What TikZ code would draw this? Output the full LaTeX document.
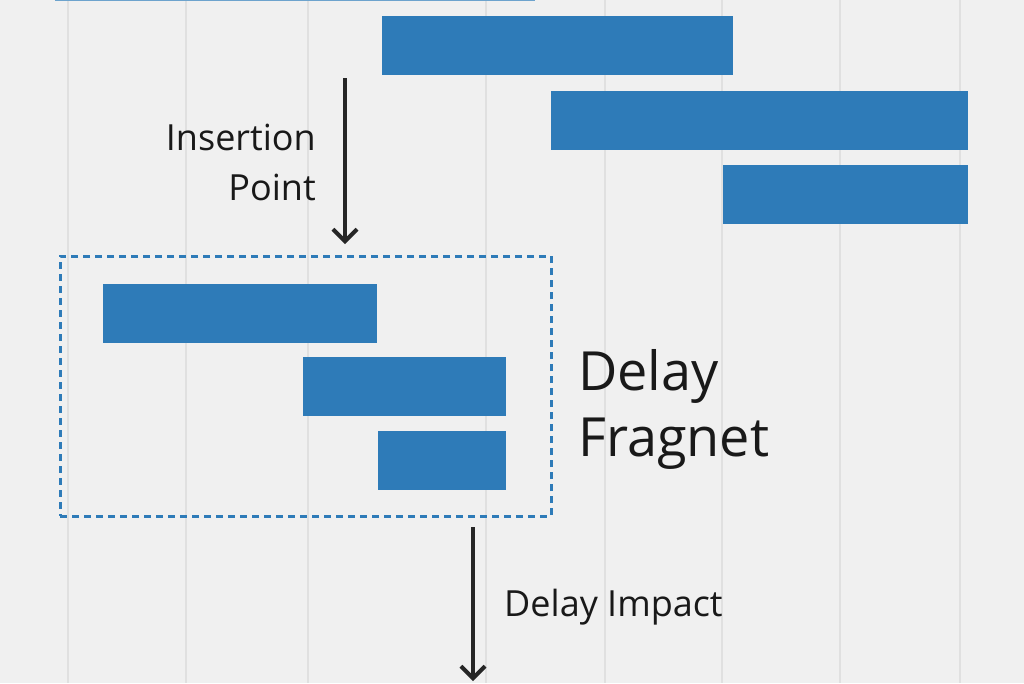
\documentclass[tikz,border=0pt]{standalone}
\usepackage{fontspec}
\setmainfont{Open Sans}
\usetikzlibrary{arrows.meta}
\definecolor{bar}{HTML}{2E7BB8}
\definecolor{bg}{HTML}{F0F0F0}
\definecolor{grid}{HTML}{E0E0E0}
\begin{document}
\begin{tikzpicture}[x=1pt,y=-1pt,
  barbox/.style={fill=bar,draw=none},
  arr/.style={line width=4pt,color=black!85,-{Straight Barb[length=12pt,width=24pt,line width=4pt]}},
  lbl/.style={inner sep=0pt,text=black!90}]
\fill[bg] (0,0) rectangle (1024,683);
\useasboundingbox (0,0) rectangle (1024,683);
\foreach \x in {68,186,308,486,605,722,840,960} \draw[grid,line width=1.2pt] (\x,0) -- (\x,683);
\draw[bar!70,line width=1.5pt] (55,0.5) -- (535,0.5);
\fill[barbox] (382,16) rectangle (733,75);
\fill[barbox] (551,91) rectangle (968,150);
\fill[barbox] (723,165) rectangle (968,224);
\fill[barbox] (103,284) rectangle (377,343);
\fill[barbox] (303,357) rectangle (506,416);
\fill[barbox] (378,431) rectangle (506,490);
\node[draw=bar,dashed,line width=3pt,dash pattern=on 7pt off 5pt,minimum width=491pt,minimum height=260pt,inner sep=0pt] (frag) at (305.5,386) {};
\coordinate (a1) at (345,78);
\coordinate (a1e) at (345,244);
\draw[arr] (a1) -- (a1e);
\coordinate (a2) at (473,527);
\coordinate (a2e) at (473,681);
\draw[arr] (a2) -- (a2e);
\node[lbl,anchor=east,font=\fontsize{36}{50}\selectfont,align=right] (ins) at (316,162) {Insertion\\Point};
\node[lbl,anchor=west,font=\fontsize{54}{66}\selectfont,align=left] (df) at (578,409) {Delay\\Fragnet};
\node[lbl,anchor=west,font=\fontsize{36}{44}\selectfont] (di) at (504,607) {Delay Impact};
\end{tikzpicture}
\end{document}
